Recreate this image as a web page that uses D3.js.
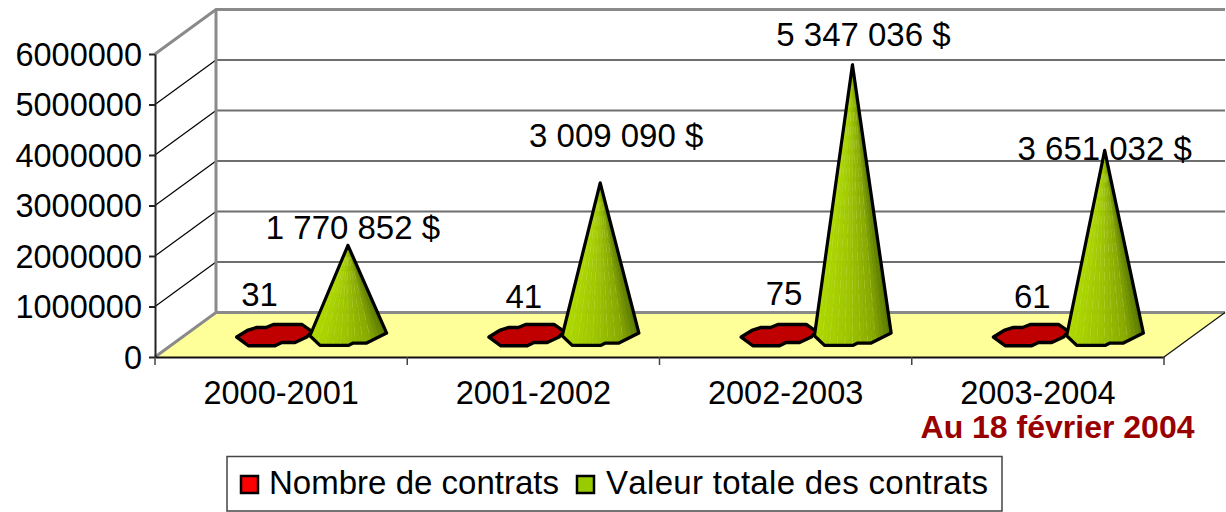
<!DOCTYPE html>
<html><head><meta charset="utf-8">
<script src="https://cdnjs.cloudflare.com/ajax/libs/d3/7.9.0/d3.min.js"></script>
<style>html,body{margin:0;padding:0;background:#fff}svg{display:block}text{font-family:"Liberation Sans",Arial,sans-serif;fill:#000;font-kerning:none}</style>
</head><body><svg id="c" width="1226" height="512"></svg>
<script>
const categories = ["2000-2001","2001-2002","2002-2003","2003-2004"];
const nombreContrats = [31,41,75,61];
const valeurContrats = [1770852,3009090,5347036,3651032];
const yTicks = [0,1000000,2000000,3000000,4000000,5000000,6000000];
const seriesNames = ["Nombre de contrats","Valeur totale des contrats"];
const noteText = "Au 18 février 2004";
// hand-placed label nudges from the original chart
const countLabelNudge = [[-15,-29],[-3,-27],[5,-30],[1,-27]];
const valueLabelNudge = [[5,-6],[16,-36],[11,-19],[0,10]];
// faceted base outlines of the low-poly cones, relative to the base centre
const flatOutline = [[-37.8,2.3],[-27.2,-4.3],[-17.8,-7.3],[-8.5,-7.3],[-1.2,-10.3],[27.2,-10.3],[37.2,-3.3],[32.2,2.3],[20.5,7.7],[7.2,7.7],[0.5,11],[-26.2,11]];
const coneFront = [[-38,1],[-28,10.7],[0.3,10.7],[5.3,8.3],[18.7,8.3],[38.7,-1.7]];

const svg = d3.select("#c");
const FS = 32.5;
const depthX = 61, depthY = 44.5;
const x = d3.scaleBand().domain(categories).range([155,1164]);
const inner = d3.scaleBand().domain([0,1]).range([x.bandwidth()*0.2075,x.bandwidth()*0.7895]);
const y = d3.scaleLinear().domain([0,6000000]).range([357,54]);
const proj = (px,v,d)=>[px+depthX*d, y(v)-depthY*d];
const line = d3.line();

// walls
const [x0,x1]=x.range();
const bl=proj(x0,0,1), br=proj(x1,0,1), tl=proj(x0,6000000,1), tr=proj(x1,6000000,1);
const fl=proj(x0,0,0), fr=proj(x1,0,0), ftl=proj(x0,6000000,0);
svg.append("path").attr("d",line([fl,bl,br,fr])+"Z").attr("fill","#ffff99");
svg.append("g").selectAll("line.g").data(yTicks.slice(1,-1)).join("line")
  .attr("x1",d=>proj(x0,d,1)[0]).attr("y1",d=>proj(x0,d,1)[1])
  .attr("x2",d=>proj(x1,d,1)[0]).attr("y2",d=>proj(x1,d,1)[1])
  .attr("stroke","#6e6e6e").attr("stroke-width",2);
svg.append("g").selectAll("line.s").data(yTicks.slice(1,-1)).join("line")
  .attr("x1",d=>proj(x0,d,0)[0]).attr("y1",d=>proj(x0,d,0)[1])
  .attr("x2",d=>proj(x0,d,1)[0]).attr("y2",d=>proj(x0,d,1)[1])
  .attr("stroke","#000").attr("stroke-width",1.2);
const gray="#8a8a8a";
svg.append("path").attr("d",line([ftl,tl,tr])).attr("fill","none").attr("stroke",gray).attr("stroke-width",3);
svg.append("path").attr("d",line([fl,bl,tl])).attr("fill","none").attr("stroke",gray).attr("stroke-width",3);
svg.append("path").attr("d",line([bl,br])).attr("fill","none").attr("stroke",gray).attr("stroke-width",3);
svg.append("path").attr("d",line([fr,br])).attr("fill","none").attr("stroke","#111").attr("stroke-width",1.2);

// axes
const yAxis = d3.axisLeft(y).tickValues(yTicks).tickSize(6).tickSizeOuter(0).tickPadding(7).tickFormat(d3.format("d"));
const gy = svg.append("g").attr("transform","translate(155,0)").call(yAxis);
gy.selectAll("text").attr("font-size",FS).attr("dy","0.35em").style("font-family",'"Liberation Sans"');
gy.selectAll("path,line").attr("stroke","#222").attr("stroke-width",2);
const xAxis = d3.axisBottom(x).tickSize(0).tickPadding(24);
const gx = svg.append("g").attr("transform","translate(0,357)").call(xAxis);
gx.select("path").attr("stroke","#111").attr("stroke-width",2);
gx.selectAll("text").attr("font-size",FS).attr("dy","0.71em").style("font-family",'"Liberation Sans"');
svg.append("g").selectAll("line").data(d3.range(categories.length+1)).join("line")
  .attr("x1",i=>x0+i*x.step()).attr("x2",i=>x0+i*x.step()).attr("y1",357).attr("y2",365)
  .attr("stroke","#444").attr("stroke-width",1.5);

// cones
const shade=d3.scaleLinear().domain([0,0.45,0.8,1]).range(["#aed800","#9cc400","#86a800","#5c7a00"]);
const frontX=coneFront.map(d=>d[0]);
const frontInterp=d3.scaleLinear().domain(frontX).range(coneFront.map(d=>d[1]));

function drawFlat(cat,v){
  const c=proj(x(cat)+inner(0)+inner.bandwidth()/2,0,0.5);
  const pts=flatOutline.map(d=>[c[0]+d[0],c[1]+d[1]]);
  svg.append("path").attr("d",line(pts)+"Z").attr("fill","#c00000")
    .attr("stroke","#000").attr("stroke-width",3.4).attr("stroke-linejoin","round");
  return c;
}
function drawCone(cat,v){
  const c=proj(x(cat)+inner(1)+inner.bandwidth()/2,0,0.5);
  const a=proj(x(cat)+inner(1)+inner.bandwidth()/2,v,0.5);
  const N=20, g=svg.append("g");
  const lo=frontX[0], hi=frontX[frontX.length-1];
  const arc=d3.range(N+1).map(i=>{const dx=lo+(hi-lo)*i/N; return [c[0]+dx,c[1]+frontInterp(dx)];});
  d3.range(N).forEach(i=>{
    const col=shade(i/(N-1));
    g.append("path").attr("d",line([a,arc[i],arc[i+1]])+"Z").attr("fill",col).attr("stroke",col).attr("stroke-width",0.6);
    if(i%2==1&&i<N-3){
      const b=arc[i+1], q=[a[0]+(b[0]-a[0])*0.12,a[1]+(b[1]-a[1])*0.12];
      g.append("line").attr("x1",q[0]).attr("y1",q[1]).attr("x2",b[0]).attr("y2",b[1])
       .attr("stroke","#dcee90").attr("stroke-width",0.9).attr("stroke-dasharray","9 5").attr("opacity",0.8);
    }
  });
  const outline=[a,...coneFront.map(d=>[c[0]+d[0],c[1]+d[1]])];
  g.append("path").attr("d",line(outline)+"Z").attr("fill","none").attr("stroke","#000")
    .attr("stroke-width",3.2).attr("stroke-linejoin","round");
  return a;
}
const fmt=d3.formatLocale({decimal:",",thousands:" ",grouping:[3],currency:["","$"]}).format(",d");
const labels=[];
categories.forEach((cat,i)=>{
  const c=drawFlat(cat,nombreContrats[i]);
  const a=drawCone(cat,valeurContrats[i]);
  labels.push({t:String(nombreContrats[i]),x:c[0]+countLabelNudge[i][0],y:c[1]+countLabelNudge[i][1]});
  labels.push({t:fmt(valeurContrats[i])+" $",x:a[0]+valueLabelNudge[i][0],y:a[1]+valueLabelNudge[i][1]});
});
svg.append("g").selectAll("text").data(labels).join("text")
  .attr("x",d=>d.x).attr("y",d=>d.y).attr("text-anchor","middle").attr("font-size",33).text(d=>d.t);

// note
svg.append("text").attr("x",1057.5).attr("y",438).attr("text-anchor","middle")
  .attr("font-size",32).attr("font-weight","bold").style("fill","#990000").text(noteText);

// legend
svg.append("rect").attr("x",227).attr("y",456.5).attr("width",775).attr("height",54.5)
  .attr("fill","#fff").attr("stroke","#444").attr("stroke-width",1.5);
const lx=[241,577], tx=[269,606], tw=[290,382], lc=["#ff0000","#99cc00"];
seriesNames.forEach((s,i)=>{
  svg.append("rect").attr("x",lx[i]).attr("y",476).attr("width",17).attr("height",17)
    .attr("fill",lc[i]).attr("stroke","#000").attr("stroke-width",2.5);
  svg.append("text").attr("x",tx[i]).attr("y",494).attr("font-size",33)
    .attr("textLength",tw[i]).attr("lengthAdjust","spacing").text(s);
});
</script></body></html>
